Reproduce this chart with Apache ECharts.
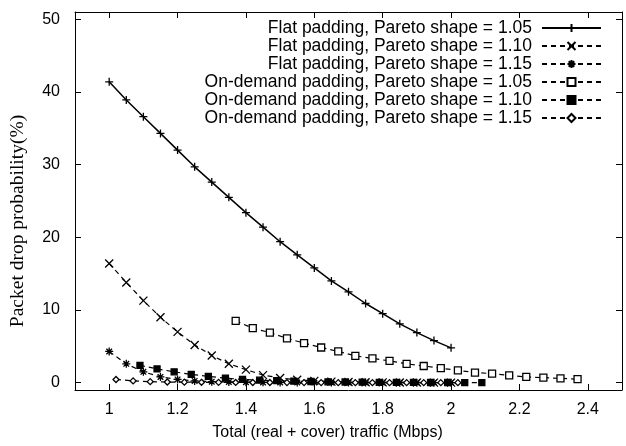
<!DOCTYPE html>
<html>
<head>
<meta charset="utf-8">
<script src="https://cdn.jsdelivr.net/npm/echarts@6/dist/echarts.min.js"></script>
<style>
  html, body { margin: 0; padding: 0; background: #fff; }
  #chart { width: 626px; height: 446px; }
</style>
</head>
<body>
<div id="chart"></div>
<script>
// x positions (Mbps)
const flatX = [1.00, 1.05, 1.10, 1.15, 1.20, 1.25, 1.30, 1.35, 1.40, 1.45, 1.50,
               1.55, 1.60, 1.65, 1.70, 1.75, 1.80, 1.85, 1.90, 1.95, 2.00];
const od105X = [1.37, 1.42, 1.47, 1.52, 1.57, 1.62, 1.67, 1.72, 1.77, 1.82, 1.87,
                1.92, 1.97, 2.02, 2.07, 2.12, 2.17, 2.22, 2.27, 2.32, 2.37];
const od110X = [1.09, 1.14, 1.19, 1.24, 1.29, 1.34, 1.39, 1.44, 1.49, 1.54, 1.59,
                1.64, 1.69, 1.74, 1.79, 1.84, 1.89, 1.94, 1.99, 2.04, 2.09];
const od115X = [1.02, 1.07, 1.12, 1.17, 1.22, 1.27, 1.32, 1.37, 1.42, 1.47, 1.52,
                1.57, 1.62, 1.67, 1.72, 1.77, 1.82, 1.87, 1.92, 1.97, 2.02];

// packet drop probability (%)
const flat105 = [41.4, 38.9, 36.6, 34.3, 32.0, 29.7, 27.6, 25.5, 23.4, 21.4, 19.4,
                 17.6, 15.8, 14.0, 12.5, 10.9, 9.5, 8.1, 6.9, 5.8, 4.8];
const flat110 = [16.4, 13.8, 11.3, 9.0, 7.0, 5.2, 3.75, 2.6, 1.8, 1.05, 0.65,
                 0.4, 0.25, 0.15, 0.1, 0.07, 0.05, 0.04, 0.03, 0.02, 0.02];
const flat115 = [4.3, 2.6, 1.5, 0.8, 0.45, 0.25, 0.15, 0.1, 0.07, 0.05, 0.04,
                 0.03, 0.03, 0.02, 0.02, 0.02, 0.01, 0.01, 0.01, 0.01, 0.01];
const od105 = [8.5, 7.5, 6.9, 6.1, 5.45, 4.85, 4.3, 3.7, 3.35, 3.0, 2.6,
               2.3, 2.0, 1.7, 1.4, 1.25, 1.0, 0.8, 0.7, 0.6, 0.5];
const od110 = [2.4, 1.9, 1.5, 1.15, 0.87, 0.64, 0.45, 0.35, 0.28, 0.22, 0.17,
               0.13, 0.1, 0.08, 0.06, 0.05, 0.04, 0.03, 0.03, 0.02, 0.02];
const od115 = [0.45, 0.25, 0.15, 0.1, 0.08, 0.06, 0.05, 0.04, 0.03, 0.03, 0.02,
               0.02, 0.02, 0.01, 0.01, 0.01, 0.01, 0.01, 0.01, 0.01, 0.01];

const names = [
  'Flat padding, Pareto shape = 1.05',
  'Flat padding, Pareto shape = 1.10',
  'Flat padding, Pareto shape = 1.15',
  'On-demand padding, Pareto shape = 1.05',
  'On-demand padding, Pareto shape = 1.10',
  'On-demand padding, Pareto shape = 1.15'
];
const xTicks = [1, 1.2, 1.4, 1.6, 1.8, 2, 2.2, 2.4];
const yTicks = [0, 10, 20, 30, 40, 50];

const FONT = 'Liberation Sans';
const dash = [5, 4];

function pairs(xs, ys) {
  return xs.map((x, i) => [x, ys[i]]);
}

function mkSeries(name, xs, ys, symbol, size, fill, solid) {
  return {
    name: name,
    type: 'line',
    data: pairs(xs, ys),
    symbol: symbol,
    symbolSize: size,
    showAllSymbol: true,
    animation: false,
    lineStyle: { color: '#000', width: solid ? 1.5 : 1.2, type: solid ? 'solid' : dash },
    itemStyle: { color: fill, borderColor: '#000', borderWidth: 1.3 },
    z: 3
  };
}

const plus = 'path://M0,5L10,5M5,0L5,10';
const cross = 'path://M0,0L10,10M10,0L0,10';
const star = 'path://M0,5L10,5M5,0L5,10M1.5,1.5L8.5,8.5M8.5,1.5L1.5,8.5';

const chart = echarts.init(document.getElementById('chart'), null, { renderer: 'canvas' });

const axisCommon = {
  axisLine: { show: true, onZero: false, lineStyle: { color: '#000', width: 1 } },
  splitLine: { show: false }
};
const tick = (vals) => ({ inside: true, length: 6, lineStyle: { color: '#000' }, customValues: vals });

chart.setOption({
  backgroundColor: '#fff',
  animation: false,
  grid: { left: 75, right: 4, top: 12, bottom: 55 },
  legend: {
    orient: 'vertical',
    right: 19,
    top: 14,
    align: 'right',
    itemGap: 0,
    itemWidth: 59,
    itemHeight: 10,
    textStyle: {
      fontFamily: FONT, fontSize: 17.5, lineHeight: 16, color: '#000',
      width: 340, align: 'right', padding: [0, 5, 0, 0]
    },
    data: names
  },
  xAxis: [
    Object.assign({}, axisCommon, {
      type: 'value', min: 0.9, max: 2.5,
      name: 'Total (real + cover) traffic (Mbps)',
      nameLocation: 'middle', nameGap: 35,
      nameTextStyle: { fontFamily: FONT, fontSize: 16, color: '#000', padding: [0, 42, 0, 0] },
      axisTick: tick(xTicks),
      axisLabel: { customValues: xTicks, fontFamily: FONT, fontSize: 16, color: '#000', margin: 12 }
    }),
    Object.assign({}, axisCommon, {
      type: 'value', min: 0.9, max: 2.5, position: 'top',
      axisTick: tick(xTicks),
      axisLabel: { show: false, customValues: xTicks }
    })
  ],
  yAxis: [
    Object.assign({}, axisCommon, {
      type: 'value', min: -1, max: 51,
      name: 'Packet drop probability(%)',
      nameLocation: 'middle', nameGap: 47,
      nameTextStyle: { fontFamily: 'Liberation Serif', fontSize: 19.5, color: '#000', padding: [0, 40, 0, 0] },
      axisTick: tick(yTicks),
      axisLabel: { customValues: yTicks, fontFamily: FONT, fontSize: 16, color: '#000', margin: 15 }
    }),
    Object.assign({}, axisCommon, {
      type: 'value', min: -1, max: 51, position: 'right',
      axisTick: tick(yTicks),
      axisLabel: { show: false, customValues: yTicks }
    })
  ],
  series: [
    mkSeries(names[0], flatX, flat105, plus, 8, '#000', true),
    mkSeries(names[1], flatX, flat110, cross, 8, '#000', false),
    mkSeries(names[2], flatX, flat115, star, 8, '#000', false),
    mkSeries(names[3], od105X, od105, 'rect', 7, '#fff', false),
    mkSeries(names[4], od110X, od110, 'rect', 6, '#000', false),
    mkSeries(names[5], od115X, od115, 'diamond', 6, '#fff', false)
  ]
});
</script>
</body>
</html>
